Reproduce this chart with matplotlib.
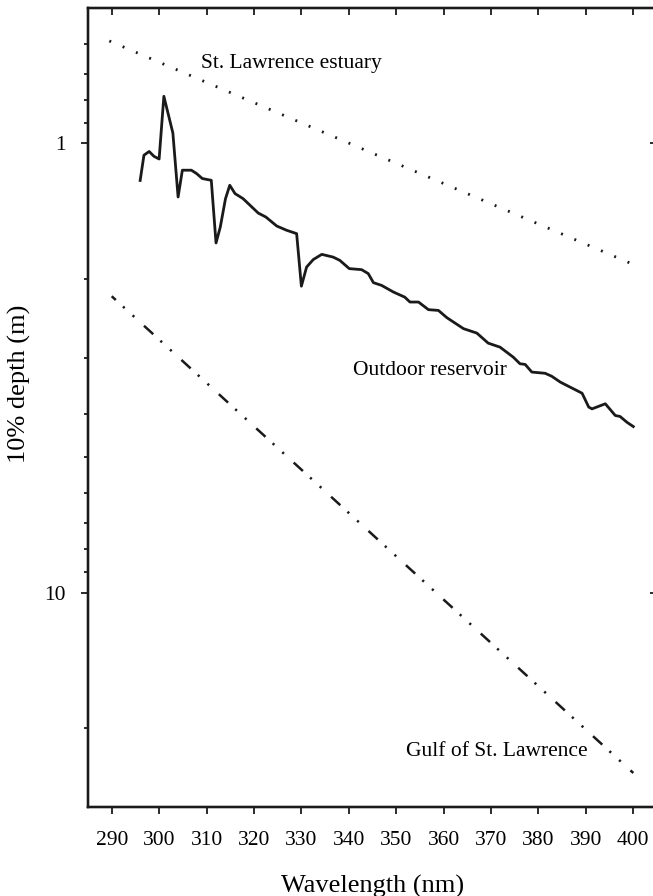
import matplotlib
matplotlib.use("Agg")
import matplotlib.pyplot as plt
from matplotlib.ticker import FixedLocator, NullFormatter, FixedFormatter

plt.rcParams['font.family'] = ['Liberation Serif', 'DejaVu Serif']
plt.rcParams['lines.scale_dashes'] = False

# outdoor reservoir
wl_res = [296.0, 296.8, 297.9, 298.9, 300.0, 301.0, 302.9, 304.0, 304.9, 306.8,
          307.9, 309.1, 311.0, 312.0, 312.9, 314.0, 314.9, 316.0, 317.7, 320.9,
          322.5, 324.8, 326.9, 329.0, 330.0, 331.1, 332.5, 334.3, 336.7, 338.1,
          340.1, 342.7, 344.1, 345.2, 346.9, 349.4, 351.8, 352.9, 354.7, 356.8,
          358.9, 360.7, 364.2, 367.0, 369.4, 371.9, 374.7, 376.1, 377.2, 378.6,
          381.4, 382.8, 384.6, 386.0, 387.4, 389.2, 390.6, 391.3, 394.1, 396.2,
          397.2, 398.7, 400.0]
depth_res = [1.21, 1.063, 1.043, 1.069, 1.084, 0.786, 0.949, 1.317, 1.148, 1.148,
             1.168, 1.198, 1.209, 1.667, 1.536, 1.328, 1.240, 1.294, 1.328, 1.43,
             1.459, 1.528, 1.562, 1.589, 2.08, 1.886, 1.815, 1.767, 1.792, 1.822,
             1.901, 1.911, 1.950, 2.043, 2.071, 2.143, 2.20, 2.256, 2.256, 2.346,
             2.355, 2.445, 2.586, 2.645, 2.785, 2.843, 2.993, 3.095, 3.106, 3.23,
             3.25, 3.30, 3.40, 3.46, 3.52, 3.60, 3.865, 3.90, 3.80, 4.035,
             4.055, 4.18, 4.27]

# St. Lawrence estuary and Gulf of St. Lawrence (straight on the log axis)
wl_est = [289.5, 401.0]
depth_est = [0.592, 1.88]
wl_gulf = [290.0, 400.0]
depth_gulf = [2.19, 25.2]

xticks = [290, 300, 310, 320, 330, 340, 350, 360, 370, 380, 390, 400]
ink = '#1a1a1a'

fig = plt.figure(figsize=(6.53, 8.96), dpi=100)
ax = fig.add_axes([88/653, 89/896, (657-88)/653, (807-8)/896])

ax.plot(wl_res, depth_res, color=ink, lw=2.0)
ax.plot(wl_est, depth_est, color=ink, lw=2.0, linestyle=(0, (1.4, 9.0)))
ax.plot(wl_gulf, depth_gulf, color=ink, lw=1.8, dash_capstyle='butt',
        linestyle=(5, (9, 7, 1.6, 7.8, 1.6, 9.5)))

ax.set_yscale('log')
ax.set_xlim(285, 405)
ax.set_ylim(30, 0.5)

ax.xaxis.set_major_locator(FixedLocator(xticks))
ax.yaxis.set_major_locator(FixedLocator([1, 10]))
ax.yaxis.set_major_formatter(FixedFormatter(['1', '10']))
ax.yaxis.set_minor_locator(FixedLocator([0.6, 0.7, 0.8, 0.9, 2, 3, 4, 5, 6, 7, 8, 9, 20]))
ax.yaxis.set_minor_formatter(NullFormatter())

ax.tick_params(axis='x', which='major', direction='out', length=5, width=1.3,
               labelsize=15.5, pad=12, color=ink)
ax.tick_params(axis='y', which='major', direction='out', length=5, width=1.3,
               labelsize=15.5, pad=11, color=ink)
ax.tick_params(axis='y', which='minor', direction='out', length=3, width=1.3, color=ink)

# inward ticks on top and right
top = ax.twiny()
top.set_xlim(ax.get_xlim())
top.xaxis.set_major_locator(FixedLocator(xticks))
top.tick_params(axis='x', direction='in', length=5, width=1.3, labeltop=False, color=ink)
right = ax.twinx()
right.set_yscale('log')
right.set_ylim(ax.get_ylim())
right.yaxis.set_major_locator(FixedLocator([1, 10]))
right.yaxis.set_minor_locator(FixedLocator([]))
right.tick_params(axis='y', direction='in', length=5, width=1.3, labelright=False, color=ink)
for a in (ax, top, right):
    for s in a.spines.values():
        s.set_linewidth(1.6)
        s.set_color(ink)

ax.set_xlabel('Wavelength (nm)', fontsize=19, labelpad=18)
ax.set_ylabel('10% depth (m)', fontsize=19)
ax.yaxis.set_label_coords(-0.1, 0.53)

ax.text(308.8, 0.663, 'St. Lawrence estuary', fontsize=15.5, va='center', ha='left')
ax.text(340.9, 3.20, 'Outdoor reservoir', fontsize=15.5, va='center', ha='left')
ax.text(352.1, 22.6, 'Gulf of St. Lawrence', fontsize=15.5, va='center', ha='left')

fig.savefig('out.png', dpi=100)
